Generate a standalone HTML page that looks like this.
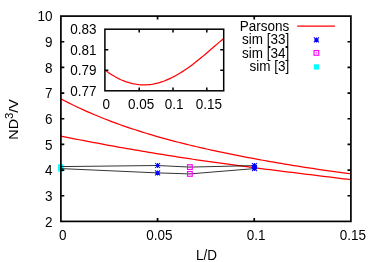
<!DOCTYPE html>
<html><head><meta charset="utf-8"><style>
html,body{margin:0;padding:0;background:#fff;}
svg{display:block;will-change:transform}
text{font-family:"Liberation Sans",sans-serif;font-size:13.5px;fill:#000}
</style></head><body>
<svg width="374" height="262" viewBox="0 0 374 262">
<rect width="374" height="262" fill="#fff"/>
<polyline points="60.90,98.87 64.57,100.79 68.24,102.65 71.91,104.47 75.58,106.25 79.25,107.98 82.93,109.67 86.60,111.32 90.27,112.93 93.94,114.50 97.61,116.03 101.28,117.53 104.95,118.99 108.62,120.41 112.29,121.81 115.96,123.17 119.63,124.50 123.31,125.80 126.98,127.07 130.65,128.31 134.32,129.52 137.99,130.71 141.66,131.87 145.33,133.01 149.00,134.12 152.67,135.21 156.34,136.28 160.01,137.32 163.68,138.35 167.36,139.35 171.03,140.34 174.70,141.30 178.37,142.25 182.04,143.18 185.71,144.09 189.38,144.99 193.05,145.87 196.72,146.74 200.39,147.59 204.06,148.43 207.74,149.25 211.41,150.06 215.08,150.86 218.75,151.65 222.42,152.42 226.09,153.18 229.76,153.93 233.43,154.67 237.10,155.40 240.77,156.12 244.44,156.84 248.12,157.54 251.79,158.23 255.46,158.91 259.13,159.58 262.80,160.25 266.47,160.91 270.14,161.55 273.81,162.20 277.48,162.83 281.15,163.45 284.82,164.07 288.49,164.68 292.17,165.28 295.84,165.87 299.51,166.45 303.18,167.03 306.85,167.60 310.52,168.16 314.19,168.71 317.86,169.26 321.53,169.79 325.20,170.32 328.87,170.84 332.55,171.35 336.22,171.85 339.89,172.34 343.56,172.82 347.23,173.29 350.90,173.75" fill="none" stroke="#f00" stroke-width="1.25"/>
<polyline points="60.90,136.12 64.57,136.85 68.24,137.58 71.91,138.30 75.58,139.02 79.25,139.74 82.93,140.45 86.60,141.15 90.27,141.85 93.94,142.54 97.61,143.23 101.28,143.92 104.95,144.60 108.62,145.27 112.29,145.94 115.96,146.60 119.63,147.26 123.31,147.91 126.98,148.56 130.65,149.20 134.32,149.83 137.99,150.46 141.66,151.09 145.33,151.70 149.00,152.32 152.67,152.92 156.34,153.53 160.01,154.12 163.68,154.71 167.36,155.30 171.03,155.88 174.70,156.45 178.37,157.02 182.04,157.59 185.71,158.14 189.38,158.70 193.05,159.25 196.72,159.79 200.39,160.33 204.06,160.86 207.74,161.39 211.41,161.91 215.08,162.43 218.75,162.95 222.42,163.46 226.09,163.96 229.76,164.46 233.43,164.96 237.10,165.45 240.77,165.94 244.44,166.43 248.12,166.91 251.79,167.39 255.46,167.87 259.13,168.34 262.80,168.81 266.47,169.28 270.14,169.74 273.81,170.20 277.48,170.66 281.15,171.12 284.82,171.57 288.49,172.03 292.17,172.48 295.84,172.93 299.51,173.38 303.18,173.83 306.85,174.28 310.52,174.73 314.19,175.18 317.86,175.62 321.53,176.07 325.20,176.52 328.87,176.97 332.55,177.42 336.22,177.88 339.89,178.33 343.56,178.78 347.23,179.24 350.90,179.70" fill="none" stroke="#f00" stroke-width="1.25"/>
<rect x="58.1" y="164.20000000000002" width="5.2" height="5.2" fill="#0ff"/>
<rect x="58.1" y="166.4" width="5.2" height="5.2" fill="#0ff"/>
<polyline points="60.9,166.6 157.6,165.5 189.9,167.1 254.5,165.6" fill="none" stroke="#000" stroke-width="0.8"/>
<polyline points="60.9,168.6 157.6,172.9 189.9,173.9 254.5,168.6" fill="none" stroke="#000" stroke-width="0.8"/>
<path d="M155.1,165.5H160.1M157.6,163.0V168.0M155.1,163.0L160.1,168.0M155.1,168.0L160.1,163.0" stroke="#00f" stroke-width="1.05" fill="none"/>
<path d="M155.1,172.9H160.1M157.6,170.4V175.4M155.1,170.4L160.1,175.4M155.1,175.4L160.1,170.4" stroke="#00f" stroke-width="1.05" fill="none"/>
<path d="M252.0,165.6H257.0M254.5,163.1V168.1M252.0,163.1L257.0,168.1M252.0,168.1L257.0,163.1" stroke="#00f" stroke-width="1.05" fill="none"/>
<path d="M252.0,168.6H257.0M254.5,166.1V171.1M252.0,166.1L257.0,171.1M252.0,171.1L257.0,166.1" stroke="#00f" stroke-width="1.05" fill="none"/>
<rect x="187.55" y="164.75" width="4.7" height="4.7" fill="none" stroke="#f0f" stroke-width="1.15"/><rect x="189.35" y="166.54999999999998" width="1.1" height="1.1" fill="#f0f"/>
<rect x="187.55" y="171.55" width="4.7" height="4.7" fill="none" stroke="#f0f" stroke-width="1.15"/><rect x="189.35" y="173.35" width="1.1" height="1.1" fill="#f0f"/>
<line x1="297.2" y1="26" x2="334.9" y2="26" stroke="#f00" stroke-width="1.25"/>
<path d="M313.9,39.9H318.9M316.4,37.4V42.4M313.9,37.4L318.9,42.4M313.9,42.4L318.9,37.4" stroke="#00f" stroke-width="1.05" fill="none"/>
<rect x="314.04999999999995" y="50.55" width="4.7" height="4.7" fill="none" stroke="#f0f" stroke-width="1.15"/><rect x="315.84999999999997" y="52.35" width="1.1" height="1.1" fill="#f0f"/>
<rect x="313.79999999999995" y="64.30000000000001" width="5.2" height="5.2" fill="#0ff"/>
<text transform="translate(289.30,30.60) scale(1,1.13)" text-anchor="end">Parsons</text>
<text transform="translate(289.30,44.10) scale(1,1.13)" text-anchor="end">sim [33]</text>
<text transform="translate(289.30,57.60) scale(1,1.13)" text-anchor="end">sim [34]</text>
<text transform="translate(289.30,71.10) scale(1,1.13)" text-anchor="end">sim [3]</text>
<rect x="60.9" y="16.1" width="290.0" height="205.3" fill="none" stroke="#000" stroke-width="1.7"/>
<path d="M60.9,195.74h3.4M350.9,195.74h-3.4M60.9,170.07h3.4M350.9,170.07h-3.4M60.9,144.41h3.4M350.9,144.41h-3.4M60.9,118.75h3.4M350.9,118.75h-3.4M60.9,93.09h3.4M350.9,93.09h-3.4M60.9,67.42h3.4M350.9,67.42h-3.4M60.9,41.76h3.4M350.9,41.76h-3.4M157.57,221.4v-3.4M157.57,16.1v3.4M254.23,221.4v-3.4M254.23,16.1v3.4" stroke="#000" stroke-width="1.7" fill="none"/>
<text transform="translate(52.60,226.60) scale(1,1.13)" text-anchor="end">2</text>
<text transform="translate(52.60,200.94) scale(1,1.13)" text-anchor="end">3</text>
<text transform="translate(52.60,175.27) scale(1,1.13)" text-anchor="end">4</text>
<text transform="translate(52.60,149.61) scale(1,1.13)" text-anchor="end">5</text>
<text transform="translate(52.60,123.95) scale(1,1.13)" text-anchor="end">6</text>
<text transform="translate(52.60,98.29) scale(1,1.13)" text-anchor="end">7</text>
<text transform="translate(52.60,72.62) scale(1,1.13)" text-anchor="end">8</text>
<text transform="translate(52.60,46.96) scale(1,1.13)" text-anchor="end">9</text>
<text transform="translate(52.60,21.30) scale(1,1.13)" text-anchor="end">10</text>
<text transform="translate(62.80,240.10) scale(1,1.13)" text-anchor="middle">0</text>
<text transform="translate(159.47,240.10) scale(1,1.13)" text-anchor="middle">0.05</text>
<text transform="translate(256.13,240.10) scale(1,1.13)" text-anchor="middle">0.1</text>
<text transform="translate(352.80,240.10) scale(1,1.13)" text-anchor="middle">0.15</text>
<text transform="translate(206.40,259.80) scale(1,1.13)" text-anchor="middle">L/D</text>
<text transform="translate(17.7,119.4) rotate(-90) scale(1.06,1)" text-anchor="middle">ND<tspan dy="-5" font-size="10.8">3</tspan><tspan dy="5">/V</tspan></text>
<rect x="104.9" y="29.2" width="118.79999999999998" height="61.599999999999994" fill="#fff" stroke="none"/>
<polyline points="104.90,70.08 106.62,71.34 108.34,72.54 110.07,73.69 111.79,74.79 113.51,75.83 115.23,76.82 116.95,77.75 118.67,78.63 120.40,79.45 122.12,80.21 123.84,80.92 125.56,81.56 127.28,82.15 129.00,82.68 130.73,83.16 132.45,83.57 134.17,83.93 135.89,84.23 137.61,84.46 139.33,84.65 141.06,84.77 142.78,84.83 144.50,84.84 146.22,84.79 147.94,84.68 149.67,84.52 151.39,84.30 153.11,84.03 154.83,83.70 156.55,83.31 158.27,82.88 160.00,82.39 161.72,81.84 163.44,81.25 165.16,80.61 166.88,79.91 168.60,79.17 170.33,78.38 172.05,77.55 173.77,76.67 175.49,75.74 177.21,74.77 178.93,73.77 180.66,72.72 182.38,71.63 184.10,70.50 185.82,69.34 187.54,68.15 189.27,66.92 190.99,65.66 192.71,64.38 194.43,63.06 196.15,61.72 197.87,60.35 199.60,58.97 201.32,57.56 203.04,56.14 204.76,54.70 206.48,53.24 208.20,51.78 209.93,50.30 211.65,48.82 213.37,47.33 215.09,45.84 216.81,44.35 218.53,42.86 220.26,41.38 221.98,39.91 223.70,38.44" fill="none" stroke="#f00" stroke-width="1.25"/>
<rect x="104.9" y="29.2" width="118.79999999999998" height="61.599999999999994" fill="none" stroke="#000" stroke-width="1.5"/>
<path d="M104.9,70.27h3.4M223.7,70.27h-3.4M104.9,49.73h3.4M223.7,49.73h-3.4M139.20,90.8v-3.4M139.20,29.2v3.4M173.00,90.8v-3.4M173.00,29.2v3.4M206.80,90.8v-3.4M206.80,29.2v3.4" stroke="#000" stroke-width="1.5" fill="none"/>
<text transform="translate(96.40,96.00) scale(1,1.13)" text-anchor="end">0.77</text>
<text transform="translate(96.40,75.47) scale(1,1.13)" text-anchor="end">0.79</text>
<text transform="translate(96.40,54.93) scale(1,1.13)" text-anchor="end">0.81</text>
<text transform="translate(96.40,34.40) scale(1,1.13)" text-anchor="end">0.83</text>
<text transform="translate(106.30,108.80) scale(1,1.13)" text-anchor="middle">0</text>
<text transform="translate(141.00,108.80) scale(1,1.13)" text-anchor="middle">0.05</text>
<text transform="translate(174.10,108.80) scale(1,1.13)" text-anchor="middle">0.1</text>
<text transform="translate(208.80,108.80) scale(1,1.13)" text-anchor="middle">0.15</text>
</svg></body></html>
